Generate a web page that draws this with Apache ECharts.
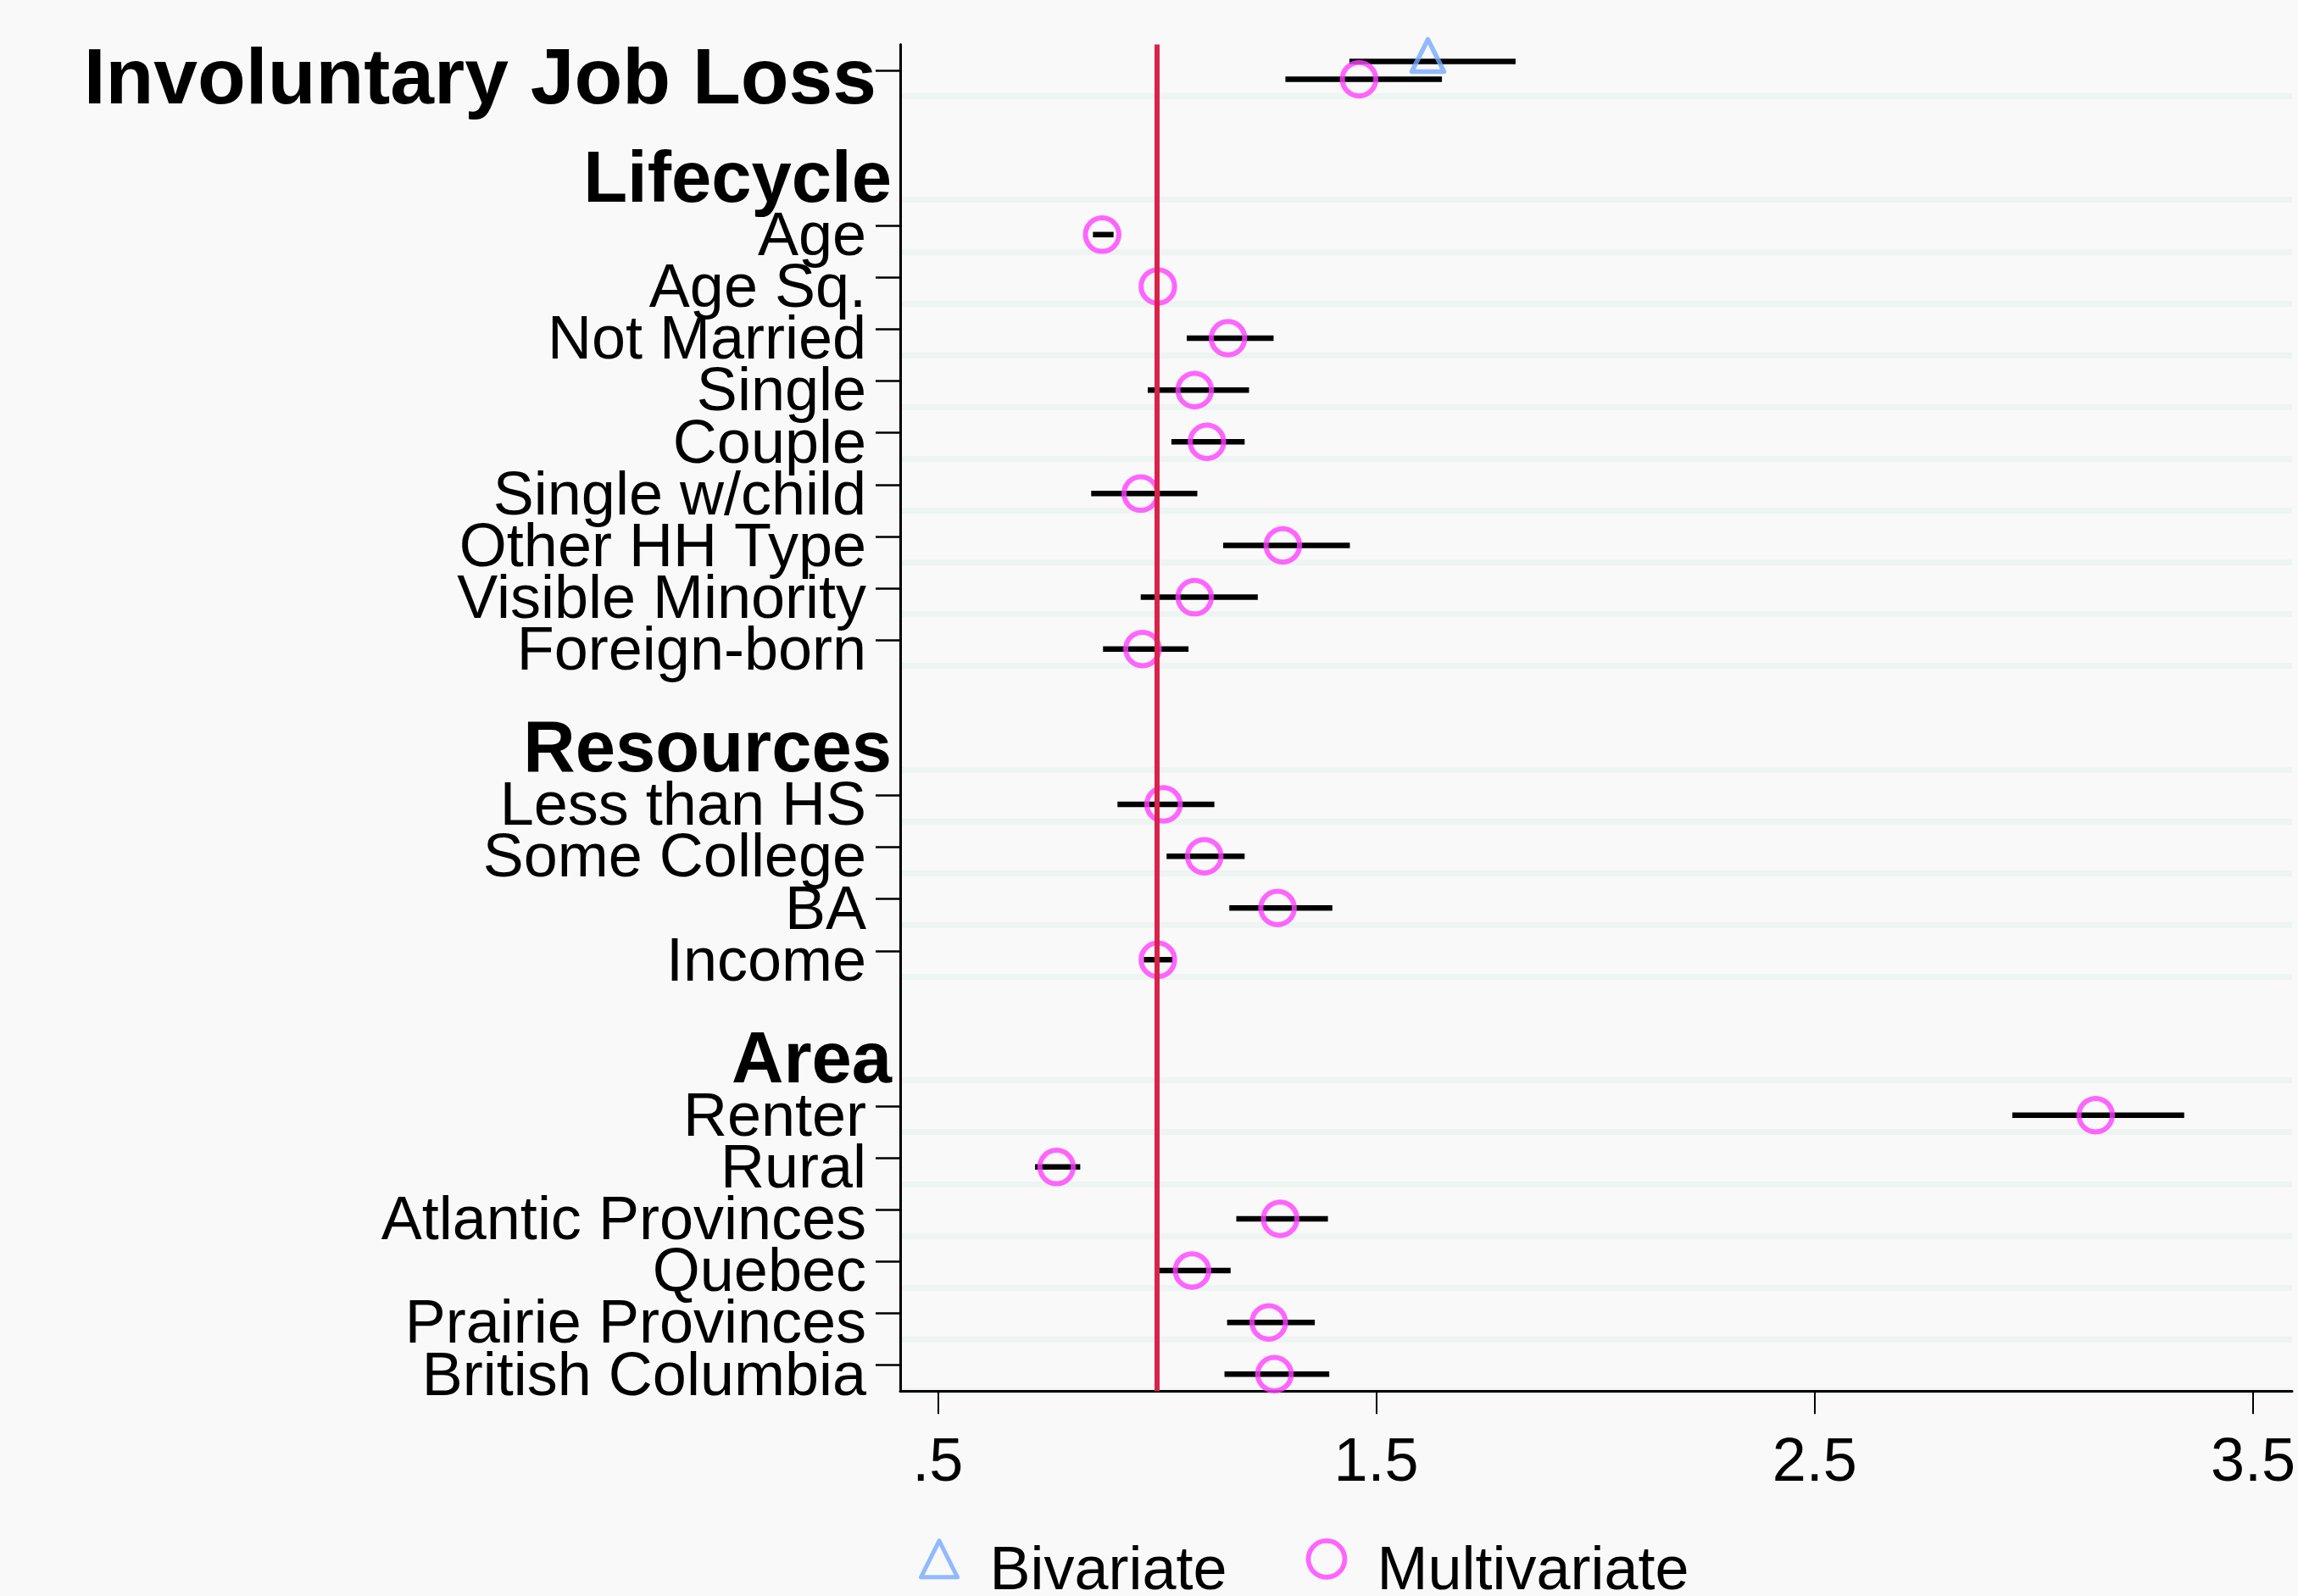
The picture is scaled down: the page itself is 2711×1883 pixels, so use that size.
<!DOCTYPE html>
<html>
<head>
<meta charset="utf-8">
<script src="https://cdn.jsdelivr.net/npm/echarts@6/dist/echarts.min.js"></script>
<style>
  html, body { margin: 0; padding: 0; background: #f9f9f9; }
  #chart { width: 2711px; height: 1883px; }
</style>
</head>
<body>
<div id="chart"></div>
<script>
// ---------- data ----------
const rowLabels = ['Involuntary Job Loss', '', 'Lifecycle', 'Age', 'Age Sq.', 'Not Married', 'Single', 'Couple',
  'Single w/child', 'Other HH Type', 'Visible Minority', 'Foreign-born', ' ', 'Resources', 'Less than HS',
  'Some College', 'BA', 'Income', '  ', 'Area', 'Renter', 'Rural', 'Atlantic Provinces', 'Quebec',
  'Prairie Provinces', 'British Columbia'];
const titleLabel = 'Involuntary Job Loss';
const headerLabels = ['Lifecycle', 'Resources', 'Area'];

const multiRows = ['Involuntary Job Loss', 'Age', 'Age Sq.', 'Not Married', 'Single', 'Couple', 'Single w/child',
  'Other HH Type', 'Visible Minority', 'Foreign-born', 'Less than HS', 'Some College', 'BA', 'Income',
  'Renter', 'Rural', 'Atlantic Provinces', 'Quebec', 'Prairie Provinces', 'British Columbia'];
const multiEst = [1.461, 0.875, 1.002, 1.162, 1.086, 1.114, 0.963, 1.287, 1.086, 0.967,
  1.015, 1.108, 1.275, 1.002, 3.141, 0.771, 1.281, 1.080, 1.255, 1.268];
const multiLo = [1.293, 0.854, 0.999, 1.068, 0.979, 1.033, 0.850, 1.151, 0.963, 0.877,
  0.910, 1.022, 1.165, 0.970, 2.951, 0.722, 1.181, 0.999, 1.160, 1.154];
const multiHi = [1.650, 0.901, 1.003, 1.266, 1.210, 1.200, 1.092, 1.440, 1.230, 1.072,
  1.131, 1.200, 1.400, 1.036, 3.343, 0.825, 1.390, 1.168, 1.360, 1.393];

const biRows = ['Involuntary Job Loss'];
const biEst = [1.618];
const biLo = [1.439];
const biHi = [1.818];

const refValue = 1;
const xTickValues = [0.5, 1.5, 2.5, 3.5];
const xTickLabels = ['.5', '1.5', '2.5', '3.5'];
const xMin = 0.4144, xMax = 3.589;

// ---------- styles ----------
const FONT = '"Liberation Sans", Arial, Helvetica, sans-serif';
const MAGENTA = '#ff40ff';
const BLUE = '#77aaff';
const OFF = 10.5; // vertical offset of each model from the row tick

function ciRender(offset) {
  return function (params, api) {
    const a = api.coord([api.value(1), api.value(0)]);
    const b = api.coord([api.value(2), api.value(0)]);
    const y = a[1] + offset;
    return {
      type: 'line',
      shape: { x1: a[0], y1: y, x2: b[0], y2: y },
      style: { stroke: '#000', lineWidth: 6.5, lineCap: 'butt' }
    };
  };
}

const chart = echarts.init(document.getElementById('chart'), null, { renderer: 'canvas' });

const option = {
  backgroundColor: '#f9f9f9',
  animation: false,
  textStyle: { fontFamily: FONT, color: '#000' },
  grid: { left: 1062, right: 7, top: 52.4, bottom: 241.7, containLabel: false },
  xAxis: {
    type: 'value',
    min: xMin,
    max: xMax,
    axisLine: { show: true, lineStyle: { color: '#000', width: 3 } },
    axisTick: { show: true, length: 27, lineStyle: { color: '#000', width: 2 }, customValues: xTickValues },
    axisLabel: {
      show: true, fontSize: 72, color: '#000', margin: 50, fontFamily: FONT,
      customValues: xTickValues,
      formatter: function (v) {
        const i = xTickValues.indexOf(+v);
        return i >= 0 ? xTickLabels[i] : '';
      }
    },
    splitLine: { show: false }
  },
  yAxis: {
    type: 'category',
    inverse: true,
    data: rowLabels,
    boundaryGap: true,
    axisLine: { show: true, lineStyle: { color: '#000', width: 3 } },
    axisTick: {
      show: true, alignWithLabel: true, length: 29,
      lineStyle: { color: '#000', width: 2.5 },
      interval: function (idx, label) {
        const t = String(label).trim();
        return t !== '' && headerLabels.indexOf(t) < 0;
      }
    },
    splitLine: {
      show: true,
      lineStyle: { color: '#edf4f2', width: 7 },
      interval: function (idx) {
        return idx > 0 && idx < rowLabels.length && rowLabels[idx - 1].trim() !== '';
      }
    },
    axisLabel: {
      show: true, interval: 0, margin: 7, fontFamily: FONT, color: '#000',
      formatter: function (v) {
        const t = String(v).trim();
        if (!t) return '';
        if (t === titleLabel) return '{t|' + t + '}';
        if (headerLabels.indexOf(t) >= 0) return '{h|' + t + '}';
        return '{n|' + t + '}';
      },
      rich: {
        t: { fontSize: 93, fontWeight: 'bold', fontFamily: FONT, color: '#000', padding: [26, 21, 0, 0] },
        h: { fontSize: 85, fontWeight: 'bold', fontFamily: FONT, color: '#000', padding: [18, 3, 0, 0] },
        n: { fontSize: 72, fontFamily: FONT, color: '#000', padding: [30, 33, 0, 0] }
      }
    }
  },
  legend: {
    data: [
      { name: 'Bivariate', itemStyle: { borderWidth: 5, borderColor: BLUE, color: 'rgba(0,0,0,0)' } },
      { name: 'Multivariate', itemStyle: { borderWidth: 5.7, borderColor: MAGENTA, color: 'rgba(0,0,0,0)' } }
    ],
    left: 1079,
    top: 1810,
    orient: 'horizontal',
    itemWidth: 43,
    itemHeight: 43,
    itemGap: 93,
    formatter: '{a|{name}}',
    textStyle: {
      fontSize: 72, color: '#000', fontFamily: FONT,
      rich: { a: { fontSize: 72, color: '#000', fontFamily: FONT, padding: [32, 0, 0, 33] } }
    }
  },
  series: [
    {
      name: 'ref',
      type: 'scatter',
      data: [],
      z: 1,
      silent: true,
      markLine: {
        silent: true,
        symbol: ['none', 'none'],
        label: { show: false },
        lineStyle: { color: '#d8234a', width: 6, type: 'solid' },
        data: [{ xAxis: refValue }]
      }
    },
    {
      name: 'ciBi',
      type: 'custom',
      z: 2,
      renderItem: ciRender(-OFF),
      encode: { x: [1, 2], y: 0 },
      data: biRows.map((r, i) => [r, biLo[i], biHi[i]])
    },
    {
      name: 'ciMulti',
      type: 'custom',
      z: 2,
      renderItem: ciRender(OFF),
      encode: { x: [1, 2], y: 0 },
      data: multiRows.map((r, i) => [r, multiLo[i], multiHi[i]])
    },
    {
      name: 'Bivariate',
      type: 'scatter',
      z: 3,
      symbol: 'triangle',
      symbolSize: 38,
      symbolOffset: [0, -OFF - 7],
      itemStyle: { color: 'rgba(0,0,0,0)', borderColor: BLUE, borderWidth: 5.5, borderJoin: 'round' },
      data: biRows.map((r, i) => [biEst[i], r])
    },
    {
      name: 'Multivariate',
      type: 'scatter',
      z: 3,
      symbol: 'circle',
      symbolSize: 39.5,
      symbolOffset: [0, OFF],
      itemStyle: { color: 'rgba(0,0,0,0)', borderColor: MAGENTA, borderWidth: 6 },
      data: multiRows.map((r, i) => [multiEst[i], r])
    }
  ]
};

chart.setOption(option);
</script>
</body>
</html>
